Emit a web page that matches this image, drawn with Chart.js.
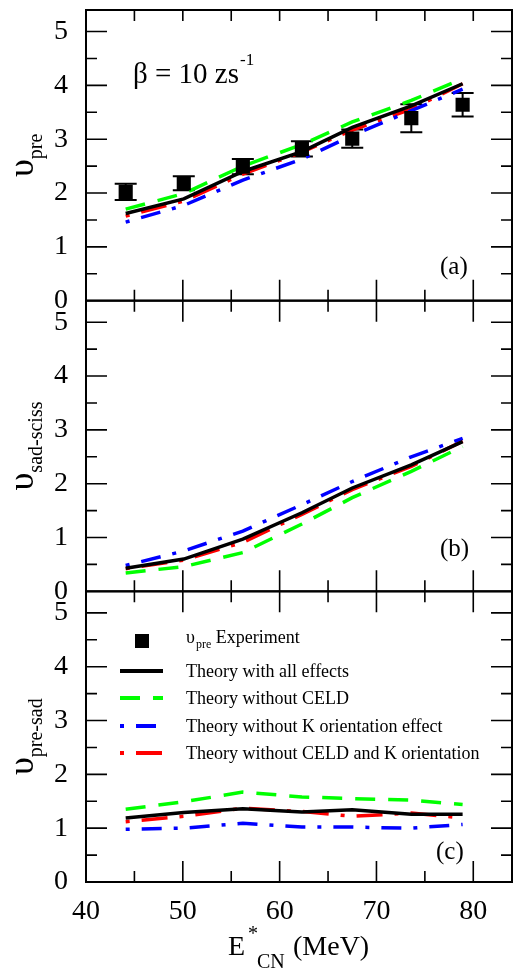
<!DOCTYPE html>
<html>
<head>
<meta charset="utf-8">
<script src="https://cdn.jsdelivr.net/npm/chart.js@4.4.1/dist/chart.umd.min.js"></script>
<style>
  html, body { margin: 0; padding: 0; background: #fff; }
  canvas { display: block; }
</style>
</head>
<body>
<canvas id="nu" width="522" height="970"></canvas>
<script>
// excitation energies E*CN (MeV)
const energies = [44.1, 50.1, 56.2, 62.3, 67.5, 73.6, 78.9];

// (a) pre-scission multiplicity
const expPre = [2.02, 2.18, 2.49, 2.82, 3.01, 3.39, 3.64];
const expErr = [0.15, 0.13, 0.14, 0.14, 0.17, 0.26, 0.22];
const preAll = [1.62, 1.89, 2.40, 2.77, 3.22, 3.62, 4.03];
const preNoCeld = [1.70, 1.99, 2.50, 2.90, 3.32, 3.72, 4.12];
const preNoK = [1.46, 1.77, 2.24, 2.63, 3.07, 3.53, 3.93];
const preNoBoth = [1.57, 1.85, 2.35, 2.76, 3.17, 3.56, 4.03];

// (b) saddle-to-scission
const sadAll = [0.43, 0.60, 0.97, 1.46, 1.92, 2.35, 2.78];
const sadNoCeld = [0.34, 0.46, 0.72, 1.25, 1.74, 2.23, 2.69];
const sadNoK = [0.48, 0.75, 1.12, 1.61, 2.04, 2.50, 2.84];
const sadNoBoth = [0.42, 0.58, 0.91, 1.43, 1.89, 2.32, 2.79];

// (c) pre-saddle
const presadAll = [1.19, 1.29, 1.36, 1.30, 1.34, 1.26, 1.26];
const presadNoCeld = [1.35, 1.49, 1.67, 1.58, 1.55, 1.52, 1.44];
const presadNoK = [0.98, 1.00, 1.09, 1.02, 1.02, 1.00, 1.07];
const presadNoBoth = [1.12, 1.22, 1.37, 1.31, 1.22, 1.28, 1.19];

const xTicks = [40, 50, 60, 70, 80];
const yTicks = [0, 1, 2, 3, 4, 5];

const SERIF = "'Liberation Serif', 'Times New Roman', serif";

const styles = {
  all: { color: '#000000', dash: [] },
  noCeld: { color: '#00ff00', dash: [20, 13] },
  noK: { color: '#0000ff', dash: [4, 12, 20, 12] },
  noBoth: { color: '#ff0000', dash: [4, 12, 26, 12] },
};

function pts(ys) {
  return energies.map((x, i) => ({ x: x, y: ys[i] }));
}

function line(ys, axis, st) {
  return {
    data: pts(ys), yAxisID: axis,
    borderColor: st.color, backgroundColor: st.color, borderDash: st.dash,
    borderWidth: 3.5, pointRadius: 0, tension: 0, fill: false,
  };
}

function yScale() {
  return {
    type: 'linear', position: 'left', stack: 'v', stackWeight: 1,
    min: 0, max: 5.4,
    grid: { display: false }, border: { display: false },
    ticks: { font: { family: SERIF, size: 28 }, color: '#000', padding: 10, autoSkip: false },
    afterBuildTicks: s => { s.ticks = yTicks.map(v => ({ value: v })); },
    afterFit: s => { s.width = 86; s.paddingTop = 0; s.paddingBottom = 0; },
  };
}

// text with sub/superscripts, parts drawn left to right
function rich(ctx, x, y, parts, measureOnly) {
  let cx = x;
  parts.forEach(p => {
    ctx.font = p.size + 'px ' + SERIF;
    if (!measureOnly) ctx.fillText(p.t, cx + (p.dx || 0), y + (p.dy || 0));
    cx += ctx.measureText(p.t).width + (p.dx || 0);
  });
  return cx - x;
}

const decor = {
  id: 'decor',
  beforeDatasetsDraw(chart) {
    // error bars for experiment
    const ctx = chart.ctx, xs = chart.scales.x, ys = chart.scales.ya;
    ctx.save();
    ctx.strokeStyle = '#000';
    ctx.lineWidth = 2;
    ctx.beginPath();
    energies.forEach((e, i) => {
      const px = xs.getPixelForValue(e);
      const lo = ys.getPixelForValue(expPre[i] - expErr[i]);
      const hi = ys.getPixelForValue(expPre[i] + expErr[i]);
      ctx.moveTo(px, lo); ctx.lineTo(px, hi);
      ctx.moveTo(px - 11, lo); ctx.lineTo(px + 11, lo);
      ctx.moveTo(px - 11, hi); ctx.lineTo(px + 11, hi);
    });
    ctx.stroke();
    ctx.restore();
  },
  afterDraw(chart) {
    const ctx = chart.ctx, xs = chart.scales.x, a = chart.chartArea;
    ctx.save();
    ctx.strokeStyle = '#000';
    ctx.fillStyle = '#000';
    ['ya', 'yb', 'yc'].forEach((id, k) => {
      const s = chart.scales[id];
      ctx.lineWidth = 2;
      ctx.strokeRect(a.left, s.top, a.right - a.left, s.bottom - s.top);
      ctx.lineWidth = 1.6;
      ctx.beginPath();
      for (let v = 0.5; v < 5.4; v += 0.5) {
        const py = s.getPixelForValue(v);
        const len = Number.isInteger(v) ? 21 : 11;
        ctx.moveTo(a.left, py); ctx.lineTo(a.left + len, py);
        ctx.moveTo(a.right, py); ctx.lineTo(a.right - len, py);
      }
      for (let v = 45; v <= 80; v += 5) {
        const px = xs.getPixelForValue(v);
        const len = v % 10 === 0 ? 21 : 11;
        ctx.moveTo(px, s.bottom); ctx.lineTo(px, s.bottom - len);
        ctx.moveTo(px, s.top); ctx.lineTo(px, s.top + (k === 0 ? 11 : len));
      }
      ctx.stroke();
    });

    // y axis titles
    const titles = [
      { id: 'ya', sub: 'pre' },
      { id: 'yb', sub: 'sad-sciss' },
      { id: 'yc', sub: 'pre-sad' },
    ];
    titles.forEach(t => {
      const s = chart.scales[t.id];
      const parts = [{ t: 'υ', size: 36 }, { t: t.sub, size: 20, dy: 9 }];
      ctx.save();
      ctx.translate(33, (s.top + s.bottom) / 2);
      ctx.rotate(-Math.PI / 2);
      ctx.textBaseline = 'alphabetic';
      const w = rich(ctx, 0, 0, parts, true);
      rich(ctx, -w / 2, 0, parts);
      ctx.restore();
    });

    ctx.textBaseline = 'alphabetic';
    // beta annotation
    rich(ctx, 133, 83, [{ t: 'β = 10 zs', size: 29 }, { t: '-1', size: 17, dy: -18, dx: 1 }]);

    // panel letters
    ctx.font = '25px ' + SERIF;
    ctx.fillText('(a)', 440, 274);
    ctx.fillText('(b)', 440, 556);
    ctx.fillText('(c)', 436, 859);

    // x axis title
    rich(ctx, 228, 955, [{ t: 'E', size: 28 }]);
    rich(ctx, 248, 940, [{ t: '*', size: 20 }]);
    rich(ctx, 257, 968, [{ t: 'CN', size: 20 }]);
    rich(ctx, 293, 955, [{ t: '(MeV)', size: 28 }]);

    // legend
    const rows = [
      { y: 677, st: styles.all, label: 'Theory with all effects' },
      { y: 704, st: styles.noCeld, label: 'Theory without CELD' },
      { y: 732, st: styles.noK, label: 'Theory without K orientation effect' },
      { y: 759, st: styles.noBoth, label: 'Theory without CELD and K orientation' },
    ];
    ctx.fillRect(135, 634, 14, 14);
    rich(ctx, 186, 643, [{ t: 'υ', size: 18 }, { t: 'pre', size: 12, dy: 5, dx: 1 }, { t: ' Experiment', size: 18 }]);
    rows.forEach(r => {
      ctx.save();
      ctx.strokeStyle = r.st.color;
      ctx.lineWidth = 4;
      ctx.setLineDash(r.st.dash);
      ctx.beginPath();
      ctx.moveTo(120, r.y - 6);
      ctx.lineTo(163, r.y - 6);
      ctx.stroke();
      ctx.restore();
      ctx.font = '18px ' + SERIF;
      ctx.fillText(r.label, 186, r.y);
    });
    ctx.restore();
  },
};

new Chart(document.getElementById('nu'), {
  type: 'line',
  data: {
    datasets: [
      {
        data: pts(expPre), yAxisID: 'ya', showLine: false,
        pointStyle: 'rect', pointRadius: 10, pointBorderWidth: 0,
        backgroundColor: '#000', borderColor: '#000',
      },
      line(preAll, 'ya', styles.all),
      line(preNoCeld, 'ya', styles.noCeld),
      line(preNoK, 'ya', styles.noK),
      line(preNoBoth, 'ya', styles.noBoth),
      line(sadAll, 'yb', styles.all),
      line(sadNoCeld, 'yb', styles.noCeld),
      line(sadNoK, 'yb', styles.noK),
      line(sadNoBoth, 'yb', styles.noBoth),
      line(presadAll, 'yc', styles.all),
      line(presadNoCeld, 'yc', styles.noCeld),
      line(presadNoK, 'yc', styles.noK),
      line(presadNoBoth, 'yc', styles.noBoth),
    ],
  },
  options: {
    responsive: false,
    animation: false,
    devicePixelRatio: 1,
    layout: { padding: { left: 0, right: 6, top: 5, bottom: 0 } },
    plugins: { legend: { display: false }, tooltip: { enabled: false } },
    scales: {
      x: {
        type: 'linear', position: 'bottom', min: 40, max: 84,
        grid: { display: false }, border: { display: false },
        ticks: { font: { family: SERIF, size: 28 }, color: '#000', padding: 5, maxRotation: 0, autoSkip: false },
        afterBuildTicks: s => { s.ticks = xTicks.map(v => ({ value: v })); },
        afterFit: s => { s.height = 88; s.paddingLeft = 0; s.paddingRight = 0; },
      },
      // left stacked axes are laid out last-defined on top
      yc: yScale(),
      yb: yScale(),
      ya: yScale(),
    },
  },
  plugins: [decor],
});
</script>
</body>
</html>
